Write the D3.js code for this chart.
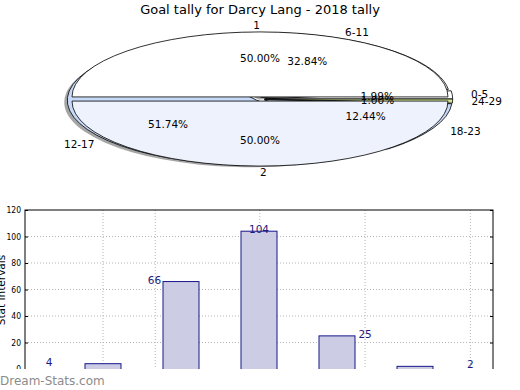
<!DOCTYPE html>
<html>
<head>
<meta charset="utf-8">
<script src="https://cdn.jsdelivr.net/npm/d3@7"></script>
<style>
  body { margin: 0; background: #fff; }
  svg { display: block; font-family: "DejaVu Sans", sans-serif; }
</style>
</head>
<body>
<svg id="chart" width="520" height="390"></svg>
<script>
// --- data ---
const title = "Goal tally for Darcy Lang - 2018 tally";
const halfLabels = ["1", "2"];
const halfValues = [50, 50];
const halfColors = ["#ffffff", "#edf2fd"];

const intervals = ["0-5", "6-11", "12-17", "18-23", "24-29"];
const intervalCounts = [4, 66, 104, 25, 2];
const intervalColors = ["#ffffff", "#ffffff", "#c6d9f7", "#c6d9f7", "#cfe592"];

// bar chart positions (x units) and text positions
const barPos = [1, 2, 3, 4, 5];
const labelPos = [0.31, 1.66, 3.0, 4.36, 5.71];
const gridX = [1, 1.67, 3.01, 4.36, 5.71];
const yTicks = [0, 20, 40, 60, 80, 100, 120];

const svg = d3.select("#chart");

svg.append("text")
  .attr("x", 260).attr("y", 14)
  .attr("text-anchor", "middle")
  .attr("font-size", 13)
  .text(title);

// --- pie ---
const cx = 260, cy = 99, rx = 188, ry = 65;
const pieG = svg.append("g");

// matplotlib style: start east, counter clockwise
const pie = d3.pie().sort(null).startAngle(Math.PI / 2).endAngle(Math.PI / 2 - 2 * Math.PI);
const arc = d3.arc().innerRadius(0).outerRadius(1);

function drawPie(values, colors, explode, shadow) {
  const arcs = pie(values);
  const layer = pieG.append("g");
  if (shadow) {
    arcs.forEach(a => {
      const mid = (a.startAngle + a.endAngle) / 2;
      const ox = Math.sin(mid) * explode * rx;
      const oy = -Math.cos(mid) * explode * ry;
      layer.append("path")
        .attr("d", arc(a))
        .attr("transform", `translate(${cx + ox - 3},${cy + oy + 2}) scale(${rx},${ry})`)
        .attr("fill", "#7f7f7f")
        .attr("opacity", 0.7);
    });
  }
  arcs.forEach((a, i) => {
    const mid = (a.startAngle + a.endAngle) / 2;
    const ox = Math.sin(mid) * explode * rx;
    const oy = -Math.cos(mid) * explode * ry;
    layer.append("path")
      .attr("d", arc(a))
      .attr("transform", `translate(${cx + ox},${cy + oy}) scale(${rx},${ry})`)
      .attr("fill", colors[i])
      .attr("stroke", "#000")
      .attr("stroke-width", 0.8)
      .attr("vector-effect", "non-scaling-stroke");
  });
  return arcs;
}

function drawLabels(arcs, labels, values, explode) {
  const total = d3.sum(values);
  arcs.forEach((a, i) => {
    const mid = (a.startAngle + a.endAngle) / 2;
    const ux = Math.sin(mid), uy = -Math.cos(mid);
    const ox = ux * explode * rx, oy = uy * explode * ry;
    pieG.append("text")
      .attr("x", cx + ox + ux * 1.1 * rx)
      .attr("y", cy + oy + uy * 1.1 * ry)
      .attr("dy", "0.35em")
      .attr("text-anchor", ux >= 0 ? "start" : "end")
      .attr("font-size", 10.5)
      .text(labels[i]);
    pieG.append("text")
      .attr("x", cx + ox + ux * 0.6 * rx)
      .attr("y", cy + oy + uy * 0.6 * ry)
      .attr("dy", "0.35em")
      .attr("text-anchor", "middle")
      .attr("font-size", 10.5)
      .text((values[i] / total * 100).toFixed(2) + "%");
  });
}

const innerArcs = drawPie(intervalCounts, intervalColors, 0.025, true);
const outerArcs = drawPie(halfValues, halfColors, 0.032, false);
drawLabels(innerArcs, intervals, intervalCounts, 0.025);
drawLabels(outerArcs, halfLabels, halfValues, 0.032);

// --- bar chart ---
const plotL = 25, plotR = 493, plotT = 210, plotB = 369;
const x = d3.scaleLinear().domain([0, 6]).range([plotL, plotR]);
const y = d3.scaleLinear().domain([0, 120]).range([plotB, plotT]);

const barG = svg.append("g");

barG.selectAll(".hgrid").data(yTicks.slice(1, -1)).join("line")
  .attr("x1", plotL).attr("x2", plotR)
  .attr("y1", d => y(d)).attr("y2", d => y(d))
  .attr("stroke", "#b5b5b5").attr("stroke-dasharray", "1,2");

barG.selectAll(".vgrid").data(gridX).join("line")
  .attr("x1", d => x(d)).attr("x2", d => x(d))
  .attr("y1", plotT).attr("y2", plotB + 10)
  .attr("stroke", "#b5b5b5").attr("stroke-dasharray", "1,2");

const bw = 36 / 78;
barG.selectAll(".bar").data(intervalCounts).join("rect")
  .attr("x", (d, i) => x(barPos[i] - bw / 2))
  .attr("width", x(bw) - x(0))
  .attr("y", d => y(d))
  .attr("height", d => y(0) - y(d) + 10)
  .attr("fill", "#ccccE4")
  .attr("stroke", "#16168a")
  .attr("stroke-width", 1);

barG.selectAll(".vlab").data(intervalCounts).join("text")
  .attr("x", (d, i) => x(labelPos[i]))
  .attr("y", d => y(d) + 2)
  .attr("text-anchor", "middle")
  .attr("font-size", 10.5)
  .attr("fill", "#1a1a80")
  .text(d => d);

// frame
barG.append("rect")
  .attr("x", plotL).attr("y", plotT)
  .attr("width", plotR - plotL).attr("height", plotB - plotT + 20)
  .attr("fill", "none").attr("stroke", "#000").attr("stroke-width", 1);

// ticks inside both sides
const yAxisL = d3.axisLeft(y).tickValues(yTicks).tickSizeInner(-3).tickSizeOuter(0).tickPadding(4);
const gL = barG.append("g").attr("transform", `translate(${plotL},0)`).call(yAxisL);
gL.select(".domain").remove();
gL.selectAll("text").attr("font-size", 8.5)
  .attr("font-family", "'DejaVu Sans Condensed', 'DejaVu Sans', sans-serif");
const yAxisR = d3.axisRight(y).tickValues(yTicks).tickSizeInner(-3).tickSizeOuter(0).tickFormat("");
const gR = barG.append("g").attr("transform", `translate(${plotR},0)`).call(yAxisR);
gR.select(".domain").remove();

barG.append("text")
  .attr("transform", "translate(5,290) rotate(-90)")
  .attr("text-anchor", "middle")
  .attr("font-size", 10.5)
  .text("Stat Intervals");

// bottom cut-off and watermark
svg.append("rect").attr("x", 0).attr("y", plotB).attr("width", 520).attr("height", 390 - plotB).attr("fill", "#fff");
svg.append("text")
  .attr("x", 0).attr("y", 385)
  .attr("font-size", 12)
  .attr("fill", "#8c8c8c")
  .text("Dream-Stats.com");
</script>
</body>
</html>
